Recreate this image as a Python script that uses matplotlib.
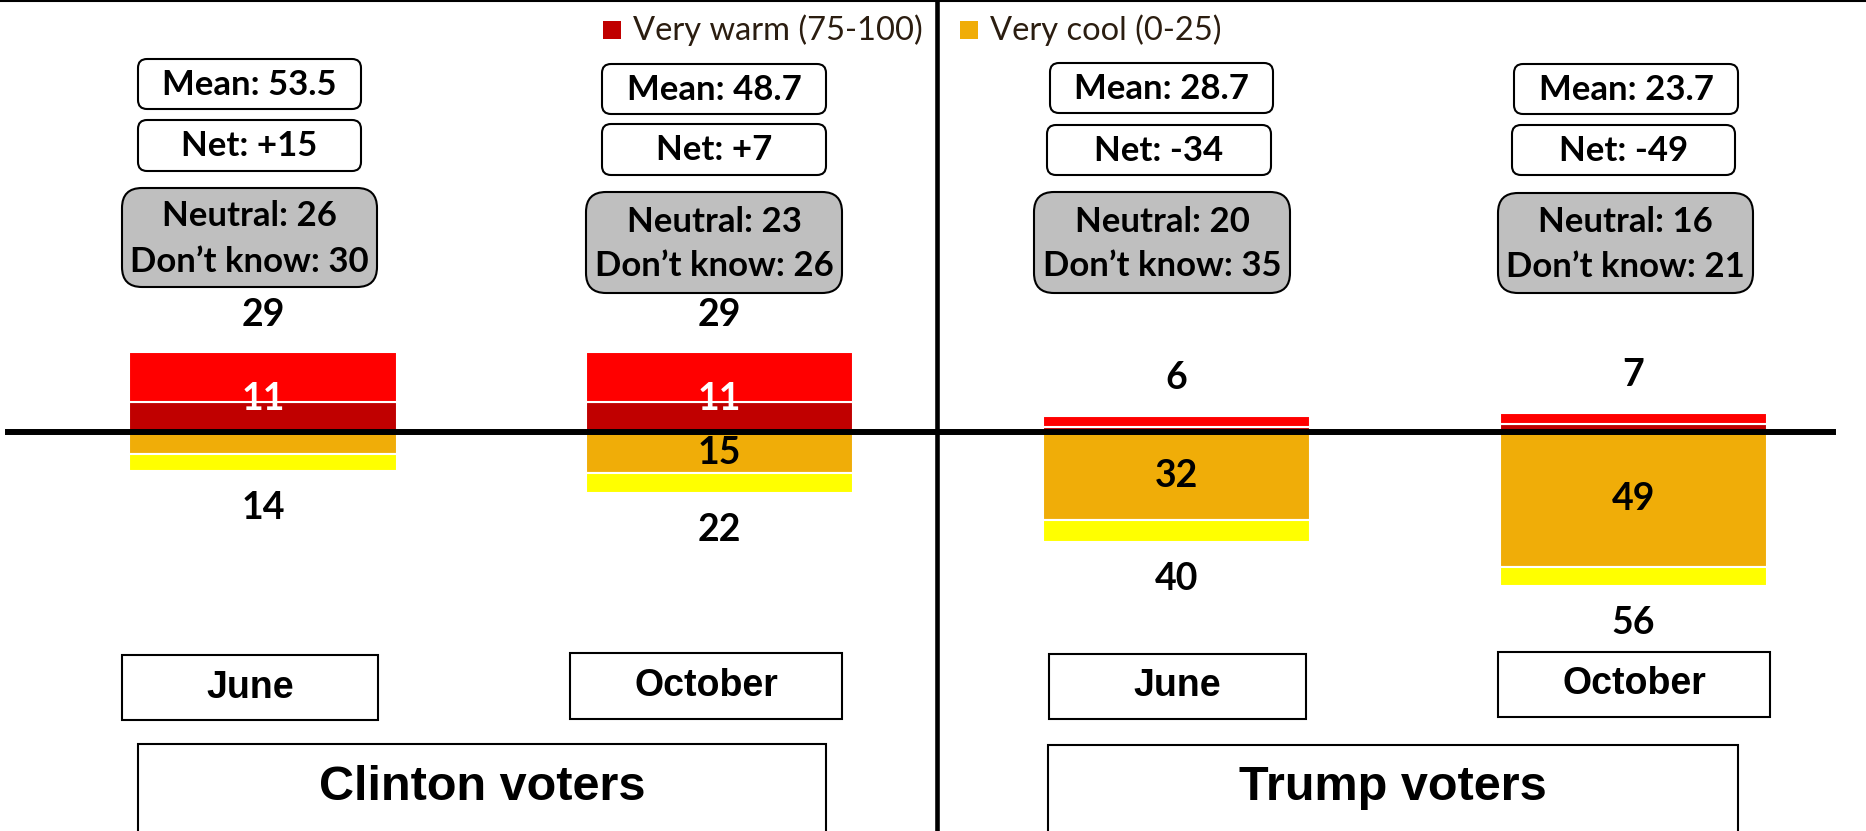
import matplotlib
matplotlib.use('Agg')
from matplotlib import pyplot as plt
from matplotlib.patches import FancyBboxPatch, Rectangle
from matplotlib.lines import Line2D
from matplotlib.transforms import Affine2D

# data
groups = ['Clinton voters', 'Trump voters']
months = ['June', 'October', 'June', 'October']
warm_total = [29, 29, 6, 7]
very_warm = [11, 11, 2, 3]
cool_total = [14, 22, 40, 56]
very_cool = [8, 15, 32, 49]
means = [53.5, 48.7, 28.7, 23.7]
neutral = [26, 23, 20, 16]
dont_know = [30, 26, 35, 21]

# colours
c_very_warm = '#C00000'
c_warm = '#FF0000'
c_very_cool = '#F0AD08'
c_cool = '#FFFF00'
c_legend_text = '#2b1d10'

W, H = 1866, 831
calibri = ['Lato', 'DejaVu Sans']
arial = ['Liberation Sans', 'DejaVu Sans']

fig = plt.figure(figsize=(W / 100, H / 100), dpi=100)
ax = fig.add_axes([0, 0, 1, 1])
ax.axis('off')

# scale: bar spacing 456.7 px, 2.75 px per percentage point, zero line at y=432 px
step, ppu, zero_y, first_x = 456.7, 2.75, 432, 263
ax.set_xlim(-first_x / step, (W - first_x) / step)
ax.set_ylim(-(H - zero_y) / ppu, zero_y / ppu)

# pixel transform (origin top-left)
pxT = Affine2D().scale(1 / W, -1 / H).translate(0, 1) + fig.transFigure

x = range(len(months))
width = 0.585
warm_rest = [t - v for t, v in zip(warm_total, very_warm)]
cool_rest = [t - v for t, v in zip(cool_total, very_cool)]
neg_vc = [-v for v in very_cool]
neg_cr = [-v for v in cool_rest]

ax.bar(x, very_warm, width, color=c_very_warm, edgecolor='white', linewidth=1.5)
ax.bar(x, warm_rest, width, bottom=very_warm, color=c_warm, edgecolor='white', linewidth=1.5)
ax.bar(x, neg_vc, width, color=c_very_cool, edgecolor='white', linewidth=1.5)
ax.bar(x, neg_cr, width, bottom=neg_vc, color=c_cool, edgecolor='white', linewidth=1.5)

ax.axhline(0, xmin=8 / W, xmax=1833 / W, color='black', lw=4.3, zorder=5)

# value labels
for i in x:
    ax.annotate(str(warm_total[i]), (i, warm_total[i]), xytext=(0, 27), textcoords='offset points',
                ha='center', va='center', fontsize=27, fontweight='bold', family=calibri)
    ax.annotate(str(cool_total[i]), (i, -cool_total[i]), xytext=(0, -27), textcoords='offset points',
                ha='center', va='center', fontsize=27, fontweight='bold', family=calibri)
    if very_warm[i] >= 10:
        ax.annotate(str(very_warm[i]), (i, very_warm[i]), xytext=(0, 2), textcoords='offset points',
                    ha='center', va='center', fontsize=27, fontweight='bold', color='white',
                    family=calibri, zorder=6)
    if very_cool[i] >= 10:
        ax.text(i, -very_cool[i] / 2, str(very_cool[i]), ha='center', va='center',
                fontsize=27, fontweight='bold', family=calibri, zorder=6)

# boxes (pixel layout: x0, x1, y0, y1)
mean_boxes = [(138, 361, 59, 109), (602, 826, 64, 114), (1050, 1273, 63, 113), (1514, 1738, 64, 114)]
net_boxes = [(138, 361, 120, 171), (602, 826, 124, 175), (1047, 1271, 125, 175), (1512, 1735, 125, 175)]
neu_boxes = [(122, 377, 188, 287), (586, 842, 192, 293), (1034, 1290, 192, 293), (1498, 1753, 193, 293)]
month_boxes = [(122, 378, 655, 720), (570, 842, 653, 719), (1049, 1306, 654, 719), (1498, 1770, 652, 717)]
group_boxes = [(138, 826, 744, 836), (1048, 1738, 745, 836)]


def box(b, fc, r, lw=1.5):
    x0, x1, y0, y1 = b
    style = 'round,pad=0,rounding_size=%d' % r if r else 'square,pad=0'
    p = FancyBboxPatch((x0, y0), x1 - x0, y1 - y0, boxstyle=style, transform=pxT,
                       facecolor=fc, edgecolor='black', lw=lw, clip_on=False)
    fig.add_artist(p)
    return (x0 + x1) / 2, (y0 + y1) / 2


for i in x:
    cx, cy = box(mean_boxes[i], 'white', 9)
    fig.text(cx, cy + 1, 'Mean: %.1f' % means[i], transform=pxT, ha='center', va='center',
             fontsize=25, fontweight='bold', family=calibri)
    cx, cy = box(net_boxes[i], 'white', 9)
    net = warm_total[i] - cool_total[i]
    fig.text(cx, cy + 1, 'Net: %+d' % net, transform=pxT, ha='center', va='center',
             fontsize=25, fontweight='bold', family=calibri)
    cx, cy = box(neu_boxes[i], '#BFBFBF', 20)
    fig.text(cx, cy - 21, 'Neutral: %d' % neutral[i], transform=pxT, ha='center', va='center',
             fontsize=25, fontweight='bold', family=calibri)
    fig.text(cx, cy + 24, 'Don\u2019t know: %d' % dont_know[i], transform=pxT, ha='center',
             va='center', fontsize=25, fontweight='bold', family=calibri)
    cx, cy = box(month_boxes[i], 'white', 0)
    fig.text(cx, cy, months[i], transform=pxT, ha='center', va='center',
             fontsize=27, fontweight='bold', family=arial)

for g, b in zip(groups, group_boxes):
    cx, cy = box(b, 'white', 0)
    fig.text(cx, 787, g, transform=pxT, ha='center', va='center',
             fontsize=35, fontweight='bold', family=arial)

# legend
for (mx, tx, col, lab) in [(603, 633, c_very_warm, 'Very warm (75-100)'),
                           (960, 990, c_very_cool, 'Very cool (0-25)')]:
    fig.add_artist(Rectangle((mx, 21), 18, 18, transform=pxT, facecolor=col, edgecolor='none'))
    fig.text(tx, 30, lab, transform=pxT, ha='left', va='center', fontsize=23.5,
             color=c_legend_text, family=calibri)

# frame lines
fig.add_artist(Line2D([0, W], [1, 1], transform=pxT, color='black', lw=1.5))
fig.add_artist(Line2D([937, 937], [0, H], transform=pxT, color='black', lw=3.3))

fig.savefig('out.png', dpi=100)
